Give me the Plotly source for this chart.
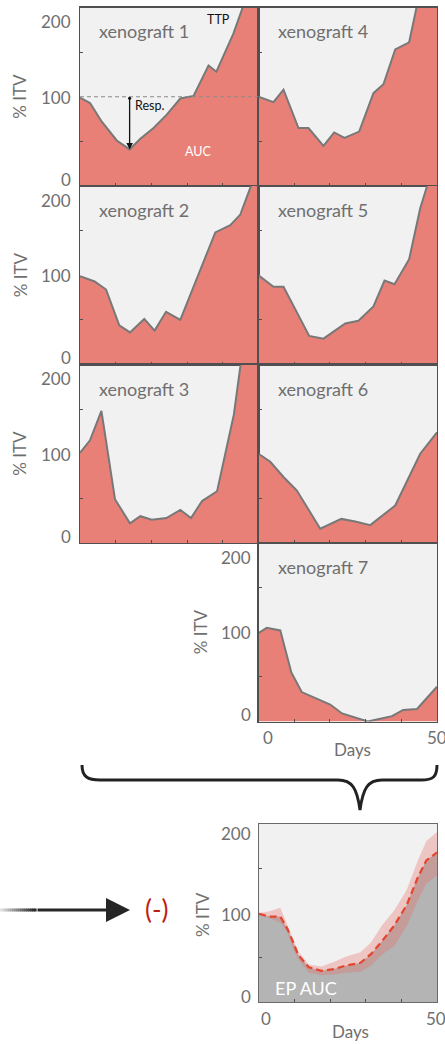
import plotly.graph_objects as go

W, H = 445, 1044

# ---------------- data ----------------
x1_days = [0, 2.8, 6.1, 10.3, 13.9, 16.9, 20.6, 24.3, 28.1, 31.8, 36, 38.2, 43, 47.5, 50]
x1_itv = [99, 93, 72, 51, 41, 53, 65, 80, 98, 101, 135, 128, 171, 220, 250]

x2_days = [0, 4.1, 7.3, 11, 14, 18, 20.9, 24.1, 28.1, 32.6, 37.9, 42.1, 44.9, 49, 50]
x2_itv = [99, 93, 84, 44, 36, 51, 38, 59, 50, 95, 148, 156, 168, 212, 225]

x3_days = [0, 2.8, 6, 9.8, 14, 16.9, 20.1, 24.2, 28.1, 31.1, 34.2, 38.4, 43.1, 46, 50]
x3_itv = [101, 115, 148, 49, 22, 30, 26, 28, 37, 28, 47, 58, 144, 230, 260]

x4_days = [0, 4.2, 7, 11.2, 14, 18.2, 21.2, 24.1, 28.2, 32.2, 35, 38.3, 42.2, 46, 50]
x4_itv = [100, 94, 108, 65, 65, 45, 60, 54, 61, 104, 114, 153, 161, 233, 260]

x5_days = [0, 4.2, 7, 10.7, 14.2, 18.2, 21, 24.3, 28, 32.2, 35.3, 38.1, 42.2, 45.3, 49, 50]
x5_itv = [100, 87, 87, 59, 32, 29, 37, 46, 49, 65, 94, 90, 118, 175, 223, 235]

x6_days = [0, 3.3, 7, 10.7, 17.3, 23.2, 27.1, 31.3, 38.3, 45.3, 50]
x6_itv = [100, 91, 74, 59, 16, 27, 24, 20, 42, 100, 124]

x7_days = [0, 2.3, 6.1, 9.2, 12.1, 15.9, 20.1, 23.4, 26.6, 30.6, 34.1, 37.4, 40.5, 44.4, 50]
x7_itv = [99, 105, 102, 55, 33, 26, 19, 9, 5, 0, 3, 6, 13, 14, 39]

ep_days = [0, 3, 6, 8, 9.5, 11, 14, 17.5, 21, 24.5, 28.5, 31.5, 34.5, 38, 41.5, 44.5, 47, 50]
ep_mean = [99, 96, 96, 82, 68, 53, 39, 35, 37, 41, 44, 54, 68, 86, 109, 139, 159, 168]
ep_upper = [100, 102, 106, 86, 70, 57, 42, 40, 45, 51, 56, 67, 86, 103, 126, 158, 181, 191]
ep_lower = [98, 94, 89, 78, 60, 48, 33, 30, 31, 33, 34, 41, 53, 63, 85, 113, 133, 142]

panel_titles = ["xenograft 1", "xenograft 2", "xenograft 3",
                "xenograft 4", "xenograft 5", "xenograft 6", "xenograft 7"]
y_ticks_labeled = [0, 100, 200]
x_ticks_labeled = [0, 50]

# ---------------- style ----------------
FONT = "Lato"
SALMON = "#e88077"
BG = "#f1f1f1"
CURVE = "#787878"
TXT = "#6f6f6f"
AX = "#505050"

def px(x):
    return x / W

def py(y):
    return 1 - y / H

COL_L = [80, 258.5]
PW = 178.5
ROW_T = [7.5, 186, 364.5, 543]
PH = 178.5

# (days, values, col, row, title)
panels = [
    (x1_days, x1_itv, 0, 0, panel_titles[0]),
    (x2_days, x2_itv, 0, 1, panel_titles[1]),
    (x3_days, x3_itv, 0, 2, panel_titles[2]),
    (x4_days, x4_itv, 1, 0, panel_titles[3]),
    (x5_days, x5_itv, 1, 1, panel_titles[4]),
    (x6_days, x6_itv, 1, 2, panel_titles[5]),
    (x7_days, x7_itv, 1, 3, panel_titles[6]),
]

fig = go.Figure()
layout = dict(
    width=W, height=H, margin=dict(l=0, r=0, t=0, b=0),
    paper_bgcolor="white", plot_bgcolor=BG, showlegend=False,
    font=dict(family=FONT, color=TXT, size=17),
)
annotations = []
shapes = []


def axis_pair(i, left, top, w, h):
    sfx = "" if i == 1 else str(i)
    xa = dict(domain=[px(left), px(left + w)], range=[0, 50], showgrid=False, zeroline=False,
              showline=True, mirror=True, linecolor=AX, linewidth=1.2,
              ticks="inside", ticklen=3, tickcolor=AX, tickvals=[10, 20, 30, 40],
              showticklabels=False, fixedrange=True, anchor="y" + sfx)
    ya = dict(domain=[py(top + h), py(top)], range=[0, 200], showgrid=False, zeroline=False,
              showline=True, mirror=True, linecolor=AX, linewidth=1.2,
              ticks="inside", ticklen=3, tickcolor=AX, tickvals=[50, 150],
              showticklabels=False, fixedrange=True, anchor="x" + sfx)
    layout["xaxis" + sfx] = xa
    layout["yaxis" + sfx] = ya
    return "x" + sfx, "y" + sfx


def ann(text, x, y, size=17, color=TXT, xanchor="center", yanchor="middle", **kw):
    annotations.append(dict(text=text, x=px(x), y=py(y), xref="paper", yref="paper",
                            showarrow=False, xanchor=xanchor, yanchor=yanchor,
                            font=dict(family=FONT, size=size, color=color), **kw))


def ytick_labels(left, top, right_edge, offs=None):
    offs = offs or {200: 14, 100: 89.5, 0: 171.5}
    for v in y_ticks_labeled:
        ann(str(v), right_edge, top + offs[v], xanchor="right")


for i, (d, v, c, r, title) in enumerate(panels, start=1):
    left, top = COL_L[c], ROW_T[r]
    xr, yr = axis_pair(i, left, top, PW, PH)
    fig.add_trace(go.Scatter(x=d, y=v, mode="lines", fill="tozeroy", fillcolor=SALMON,
                             line=dict(color=CURVE, width=2), xaxis=xr, yaxis=yr,
                             hoverinfo="skip"))
    ann(title, left + 17, top + 24, size=18, xanchor="left")
    if c == 0:
        ytick_labels(left, top, 72.5)
        ann("% ITV", 20, top + PH / 2, textangle=-90)
    if i == 7:
        ytick_labels(left, top, 252.5)
        ann("% ITV", 200, top + PH / 2, textangle=-90)
        ann(str(x_ticks_labeled[0]), left + 9, 737)
        ann(str(x_ticks_labeled[1]), left + PW, 737)
        ann("Days", 352, 749)

# panel 1 decorations
shapes.append(dict(type="line", xref="x", yref="y", x0=0, x1=50, y0=100, y1=100,
                   line=dict(color="#8a8a8a", width=1.2, dash="4px,3px")))
annotations.append(dict(x=13.9, y=41, ax=13.9, ay=100, xref="x", yref="y", axref="x", ayref="y",
                        text="", showarrow=True, arrowhead=2, arrowsize=1, arrowwidth=1.3,
                        arrowcolor="#111", arrowside="end+start", startarrowhead=6,
                        startarrowsize=0.6, standoff=0, startstandoff=0))
ann("Resp.", 133, 106, size=12.5, color="#111", xanchor="left")
ann("AUC", 198, 151, size=12.5, color="white")
ann("TTP", 218, 19, size=12.5, color="#111")

# ---------------- EP panel ----------------
xr, yr = axis_pair(8, 259, 824, 178, 178)
layout["xaxis8"]["linecolor"] = "#6a6a6a"
layout["yaxis8"]["linecolor"] = "#6a6a6a"
fig.add_trace(go.Scatter(x=ep_days, y=ep_mean, mode="lines", fill="tozeroy", fillcolor="#b4b4b4",
                         line=dict(width=0, color="#b4b4b4"), xaxis=xr, yaxis=yr, hoverinfo="skip"))
fig.add_trace(go.Scatter(x=ep_days, y=ep_lower, mode="lines", line=dict(width=0, color="rgba(0,0,0,0)"),
                         xaxis=xr, yaxis=yr, hoverinfo="skip"))
fig.add_trace(go.Scatter(x=ep_days, y=ep_upper, mode="lines", fill="tonexty",
                         fillcolor="rgba(232,108,104,0.33)", line=dict(width=0, color="rgba(0,0,0,0)"),
                         xaxis=xr, yaxis=yr, hoverinfo="skip"))
fig.add_trace(go.Scatter(x=ep_days, y=ep_mean, mode="lines",
                         line=dict(width=2.2, color="#e5452f", dash="7px,4px"),
                         xaxis=xr, yaxis=yr, hoverinfo="skip"))
ytick_labels(259, 824, 252.5, {200: 9.5, 100: 90, 0: 172.5})
ann("% ITV", 202, 915, textangle=-90)
ann(str(x_ticks_labeled[0]), 266, 1018)
ann(str(x_ticks_labeled[1]), 436, 1018)
ann("Days", 350, 1031)
ann("EP AUC", 306, 988, size=18, color="white")

# ---------------- brace ----------------
def P(x, y):
    return f"{px(x):.5f},{py(y):.5f}"

brace = ("M " + P(82, 765) + " C " + P(82, 777) + " " + P(88, 780) + " " + P(100, 780) +
         " L " + P(338, 780) + " C " + P(352, 780) + " " + P(357, 788) + " " + P(360, 810) +
         " C " + P(363, 788) + " " + P(368, 780) + " " + P(382, 780) +
         " L " + P(421, 780) + " C " + P(433, 780) + " " + P(437, 777) + " " + P(437, 765))
shapes.append(dict(type="path", xref="paper", yref="paper", path=brace,
                   line=dict(color="#222", width=3)))

# ---------------- arrow with fading tail ----------------
n_fade = 18
for k in range(n_fade):
    t = k / (n_fade - 1)
    g = int(225 - t * (225 - 40))
    shapes.append(dict(type="line", xref="paper", yref="paper",
                       x0=px(k * 2), x1=px(k * 2 + 2.6), y0=py(910), y1=py(910),
                       line=dict(color=f"rgb({g},{g},{g})", width=3)))
annotations.append(dict(x=px(130), y=py(910), xref="paper", yref="paper", ax=-94, ay=0,
                        text="", showarrow=True, arrowhead=2, arrowsize=1.6, arrowwidth=3,
                        arrowcolor="#262626", standoff=0))
ann("(-)", 157, 909, size=26, color="#bf1e12")

layout["annotations"] = annotations
layout["shapes"] = shapes
fig.update_layout(**layout)
fig.write_html("out.html", config={"displayModeBar": False, "staticPlot": True},
               post_script="document.body.style.margin='0';document.body.style.padding='0';"
                           "document.documentElement.style.margin='0';")
